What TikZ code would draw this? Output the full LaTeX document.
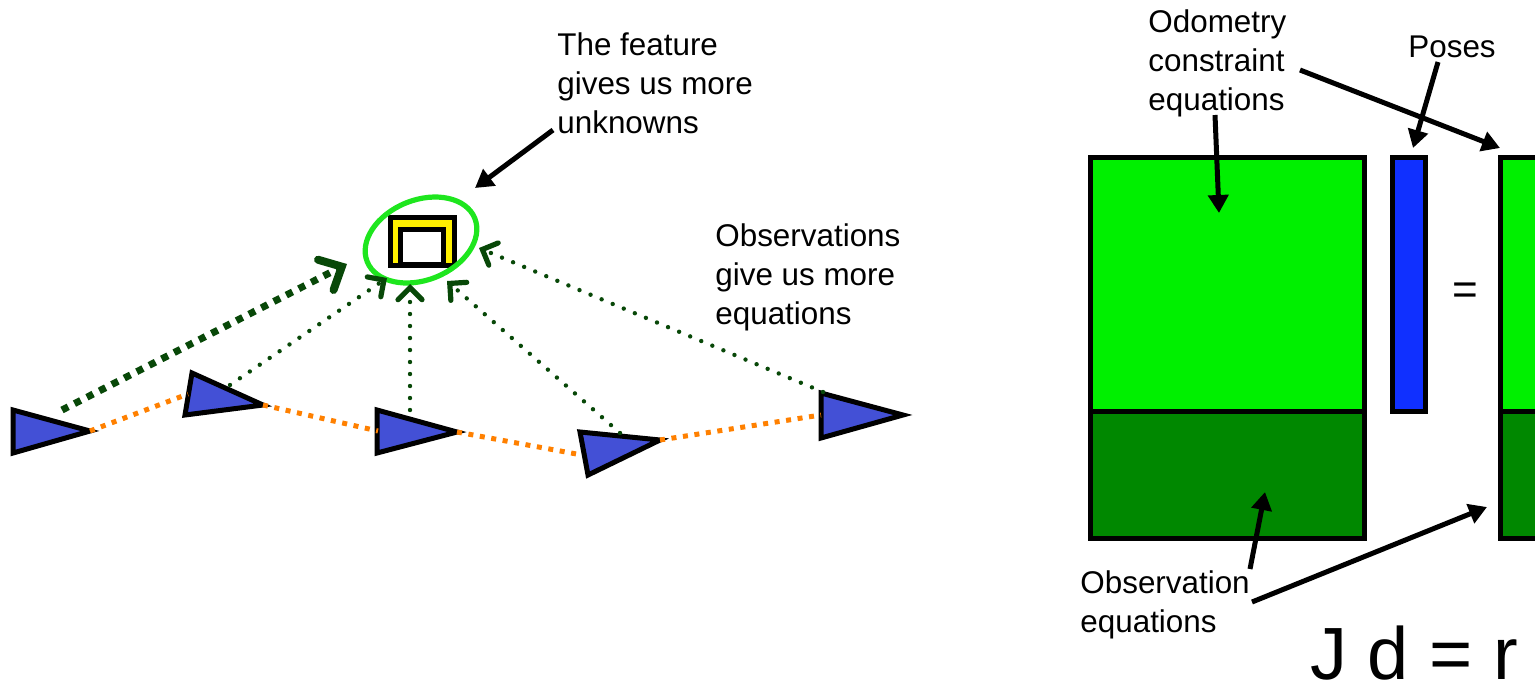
\documentclass[tikz,border=0pt]{standalone}
\usepackage{fontspec}
\setmainfont{Liberation Sans}
\usetikzlibrary{arrows.meta}
\definecolor{triblue}{RGB}{67,80,214}
\definecolor{odoorange}{RGB}{255,128,0}
\definecolor{obsgreen}{RGB}{8,72,8}
\definecolor{ellgreen}{RGB}{30,230,30}
\definecolor{featyellow}{RGB}{255,240,0}
\definecolor{brightgreen}{RGB}{0,240,0}
\definecolor{darkfill}{RGB}{0,136,0}
\definecolor{posesblue}{RGB}{16,48,255}
\tikzset{
  pose/.style={draw=black, fill=triblue, line width=2.5pt, line join=miter},
  odo/.style={draw=odoorange, line width=2.5pt, dash pattern=on 2.5pt off 3.3pt},
  obs/.style={draw=obsgreen, line width=2.2pt, line cap=round, dash pattern=on 0pt off 6pt,
    -{Straight Barb[length=6pt,width=12pt,line width=2.6pt,line cap=round]}},
  obsthick/.style={draw=obsgreen, line width=3.5pt, dash pattern=on 3.5pt off 3.5pt,
    -{Straight Barb[length=9pt,width=17pt,line width=4pt,line cap=round]}},
  callout/.style={draw=black, line width=2.5pt, -{Triangle[length=9pt,width=10pt]}},
  label/.style={font=\fontsize{15.7}{19.3}\selectfont, align=left, inner sep=0pt},
  block/.style={draw=black, line width=2.5pt},
}
\begin{document}
\begin{tikzpicture}[x=0.5pt,y=-0.5pt]
\useasboundingbox (0,0) rectangle (1535,686);
% poses
\draw[pose] (13,410) -- (13,453) -- (90,431) -- cycle;
\draw[pose] (192,373) -- (185,415) -- (263,405) -- cycle;
\draw[pose] (377,410) -- (377,453) -- (457,432) -- cycle;
\draw[pose] (580,432) -- (588,475) -- (660,440) -- cycle;
\draw[pose] (821,393) -- (821,438) -- (903,415) -- cycle;
\coordinate (p1tip) at (90,431);
\coordinate (p2l) at (188,394);
\coordinate (p2tip) at (263,405);
\coordinate (p3l) at (378,431);
\coordinate (p3tip) at (457,432);
\coordinate (p4l) at (582,455);
\coordinate (p4tip) at (660,440);
\coordinate (p5l) at (821,415);
% odometry links
\draw[odo] (p1tip) -- (p2l);
\draw[odo] (p2tip) -- (p3l);
\draw[odo] (p3tip) -- (p4l);
\draw[odo] (p4tip) -- (p5l);
% feature
\fill[black] (388,215) rectangle (457,268);
\fill[featyellow] (393,220) rectangle (452,263);
\fill[black] (398,227) rectangle (446,268);
\fill[white] (403,232) rectangle (441,262);
\draw[ellgreen, line width=2.6pt, rotate around={22:(421,240)}] (421,240) ellipse [x radius=58, y radius=40];
\coordinate (f1) at (347,264);
\coordinate (f2) at (387,278);
\coordinate (f3) at (410,284);
\coordinate (f4) at (447,281);
\coordinate (f5) at (479,248);
% observations
\coordinate (o1) at (62,410);
\coordinate (o2) at (230,385);
\coordinate (o3) at (410,410);
\coordinate (o4) at (620,433);
\coordinate (o5) at (823,392);
\draw[obsthick] (o1) -- (f1);
\draw[obs] (o2) -- (f2);
\draw[obs] (o3) -- (f3);
\draw[obs] (o4) -- (f4);
\draw[obs] (o5) -- (f5);
% labels left
\node[label, anchor=base west] (featlbl) at (557,133) {The feature\\gives us more\\unknowns};
\coordinate (fa0) at (553,130);
\coordinate (fa1) at (475,188);
\draw[callout] (fa0) -- (fa1);
\node[label, anchor=base west] (obslbl) at (715,324) {Observations\\give us more\\equations};
% right: matrices
\draw[block, fill=brightgreen] (1090,157) rectangle (1364,411);
\draw[block, fill=darkfill] (1090,411) rectangle (1364,538);
\draw[block, fill=posesblue] (1392,157) rectangle (1425,411);
\draw[block, fill=brightgreen] (1500,157) rectangle (1550,411);
\draw[block, fill=darkfill] (1500,411) rectangle (1550,538);
\node[inner sep=0pt, font=\fontsize{22}{26}\selectfont, anchor=center] (eq) at (1465,294) {=};
% right labels
\node[label, anchor=base west] (odolbl) at (1148,110) {Odometry\\constraint\\equations};
\node[label, anchor=base west] (poselbl) at (1408,57) {Poses};
\node[label, anchor=base west] (obseqlbl) at (1080,632) {Observation\\equations};
\node[inner sep=0pt, anchor=base west, font=\fontsize{37}{44}\selectfont] (jdr) at (1310,679) {J d = r};
\coordinate (a1s) at (1215,115);
\coordinate (a1e) at (1219,213);
\coordinate (a2s) at (1300,70);
\coordinate (a2e) at (1500,148);
\coordinate (a3s) at (1438,62);
\coordinate (a3e) at (1413,148);
\coordinate (a4s) at (1250,569);
\coordinate (a4e) at (1265,492);
\coordinate (a5s) at (1252,602);
\coordinate (a5e) at (1487,507);
\draw[callout] (a1s) -- (a1e);
\draw[callout] (a2s) -- (a2e);
\draw[callout] (a3s) -- (a3e);
\draw[callout] (a4s) -- (a4e);
\draw[callout] (a5s) -- (a5e);
\end{tikzpicture}
\end{document}
